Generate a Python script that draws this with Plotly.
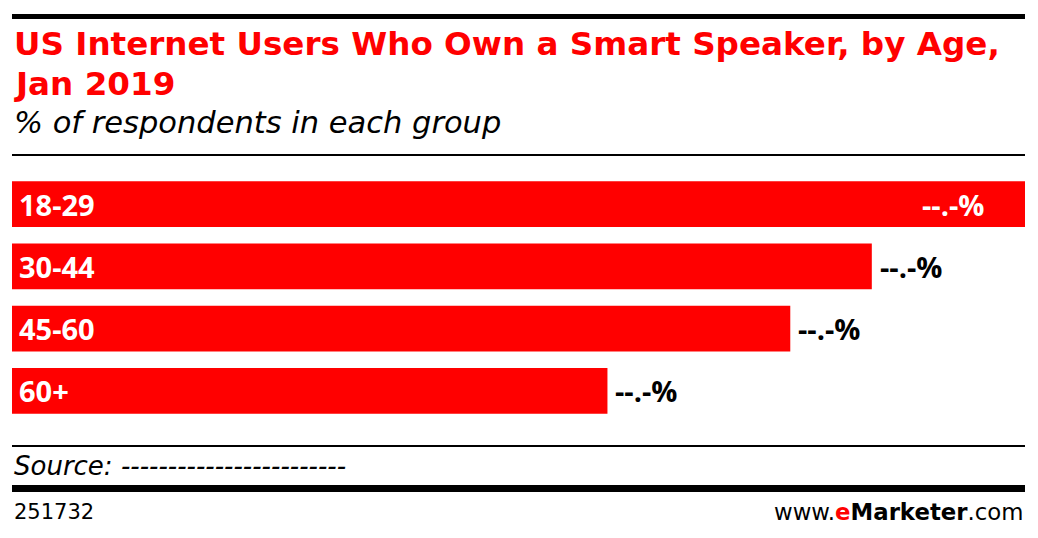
"""
US internet users who own a smart speaker, by age (eMarketer style bar chart).
"""
import plotly.graph_objects as go

# data
age_groups = ["18-29", "30-44", "45-60", "60+"]
owners_pct = [41.0, 34.8, 31.5, 24.1]
value_labels = ["--.-%", "--.-%", "--.-%", "--.-%"]

RED = "#ff0000"
# page has an 8px body margin, so the figure is drawn 8px smaller/shifted
OFF = 8
W, H = 1038 - OFF, 538 - OFF
PLOT_TOP, PLOT_BOTTOM = 173 - OFF, 422 - OFF


def py(px):
    """page pixel row -> paper y of the plot area"""
    return (PLOT_BOTTOM - (px - OFF)) / (PLOT_BOTTOM - PLOT_TOP)


fig = go.Figure()
fig.add_trace(go.Bar(
    x=owners_pct,
    y=age_groups,
    orientation="h",
    marker=dict(color=RED, line=dict(width=0)),
    hoverinfo="x+y",
    showlegend=False,
))

annotations = []
# category labels inside bars
for grp in age_groups:
    annotations.append(dict(
        x=0, y=grp, xref="x", yref="y", text=f"<b>{grp}</b>",
        xanchor="left", yanchor="middle", xshift=5, showarrow=False,
        font=dict(family="Open Sans", size=29, color="white"),
    ))
# value labels
for i, (grp, val, lab) in enumerate(zip(age_groups, owners_pct, value_labels)):
    inside = i == 0
    annotations.append(dict(
        x=val, y=grp, xref="x", yref="y", text=f"<b>{lab}</b>",
        xanchor="right" if inside else "left", yanchor="middle",
        xshift=-39 if inside else 6, showarrow=False,
        font=dict(family="Open Sans", size=29, color="white" if inside else "black"),
    ))

# header / footer text
annotations += [
    dict(x=0, y=py(44), xref="paper", yref="paper", xanchor="left", yanchor="middle",
         text="<b>US Internet Users Who Own a Smart Speaker, by Age,</b>", showarrow=False,
         font=dict(family="DejaVu Sans", size=32.6, color=RED)),
    dict(x=0, y=py(84), xref="paper", yref="paper", xanchor="left", yanchor="middle",
         text="<b>Jan 2019</b>", showarrow=False,
         font=dict(family="DejaVu Sans", size=32.6, color=RED)),
    dict(x=0, y=py(123), xref="paper", yref="paper", xanchor="left", yanchor="middle",
         text="<i>% of respondents in each group</i>", showarrow=False,
         font=dict(family="DejaVu Sans", size=30.5, color="black")),
    dict(x=0, y=py(466), xref="paper", yref="paper", xanchor="left", yanchor="middle",
         text="<i>Source: ------------------------</i>", showarrow=False,
         font=dict(family="DejaVu Sans", size=26, color="black")),
    dict(x=0, y=py(512), xref="paper", yref="paper", xanchor="left", yanchor="middle",
         text="251732", showarrow=False,
         font=dict(family="DejaVu Sans", size=21, color="black")),
    dict(x=1, y=py(512), xref="paper", yref="paper", xanchor="right", yanchor="middle",
         text="www.<b><span style='color:#ff0000'>e</span>Marketer</b>.com", showarrow=False,
         font=dict(family="DejaVu Sans", size=22.8, color="black")),
]

shapes = [
    dict(type="line", xref="paper", yref="paper", x0=0, x1=1, y0=py(16.5), y1=py(16.5),
         line=dict(color="black", width=5)),
    dict(type="line", xref="paper", yref="paper", x0=0, x1=1, y0=py(155), y1=py(155),
         line=dict(color="black", width=2)),
    dict(type="line", xref="paper", yref="paper", x0=0, x1=1, y0=py(446), y1=py(446),
         line=dict(color="black", width=2)),
    dict(type="line", xref="paper", yref="paper", x0=0, x1=1, y0=py(488.5), y1=py(488.5),
         line=dict(color="black", width=7)),
]

fig.update_layout(
    width=W, height=H,
    margin=dict(l=12 - OFF, r=13, t=PLOT_TOP, b=H - PLOT_BOTTOM, pad=0),
    plot_bgcolor="white", paper_bgcolor="white",
    bargap=0.264,
    xaxis=dict(range=[0, max(owners_pct)], visible=False, fixedrange=True),
    yaxis=dict(autorange="reversed", visible=False, fixedrange=True),
    annotations=annotations,
    shapes=shapes,
)

fig.write_html("out.html")
